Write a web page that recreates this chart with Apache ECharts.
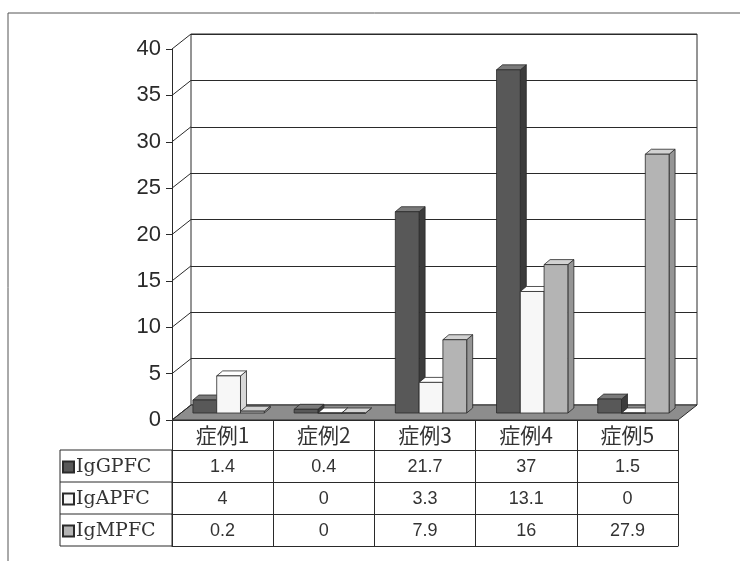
<!DOCTYPE html>
<html>
<head>
<meta charset="utf-8">
<script src="https://cdn.jsdelivr.net/npm/echarts@6/dist/echarts.min.js"></script>
<style>
html,body{margin:0;padding:0;background:#fff;}
#chart{width:740px;height:561px;}
</style>
</head>
<body>
<div id="chart"></div>
<script>
// ---- data ----
const categories = ['症例1', '症例2', '症例3', '症例4', '症例5'];
const seriesNames = ['IgGPFC', 'IgAPFC', 'IgMPFC'];
const igG = [1.4, 0.4, 21.7, 37, 1.5];
const igA = [4, 0, 3.3, 13.1, 0];
const igM = [0.2, 0, 7.9, 16, 27.9];
const yTicks = [0, 5, 10, 15, 20, 25, 30, 35, 40];

// ---- layout / style ----
const FL = 172, FR = 678, FT = 49, FB = 420;   // front plot plane
const DX = 19, DY = 15;                         // 3D depth of the walls
const MIDX = 6, MIDY = -7;                      // bar plane shift
const HEAD = 30, ROW = 32;
const LEGL = 60;
const W = 740, H = 561;
const faces = [
  { front: '#585858', top: '#7a7a7a', side: '#3c3c3c' },
  { front: '#f7f7f7', top: '#ffffff', side: '#d8d8d8' },
  { front: '#b4b4b4', top: '#d2d2d2', side: '#959595' }
];
const LINE = '#2a2a2a';

const seriesData = [igG, igA, igM];
const yMin = yTicks[0], yMax = yTicks[yTicks.length - 1], yStep = yTicks[1] - yTicks[0];

const chart = echarts.init(document.getElementById('chart'), null, { renderer: 'canvas' });

function renderFloor(params, api) {
  const band = api.size([1, 0])[0];
  const left = api.coord([0, 0])[0] - band / 2;
  const right = api.coord([categories.length - 1, 0])[0] + band / 2;
  const y0 = api.coord([0, 0])[1];
  const children = [{
    type: 'polygon',
    shape: { points: [[left, y0], [right, y0], [right + DX, y0 - DY], [left + DX, y0 - DY]] },
    style: { fill: '#8d8d8d', stroke: LINE, lineWidth: 1 }
  }];
  yTicks.forEach(t => {
    const y = api.coord([0, t])[1];
    children.push({
      type: 'line',
      shape: { x1: left, y1: y, x2: left + DX, y2: y - DY },
      style: { stroke: LINE, lineWidth: 1 }
    });
  });
  return { type: 'group', children };
}

function renderBar(params, api) {
  const s = seriesNames.indexOf(params.seriesName);
  const f = faces[s];
  const i = api.value(0), v = api.value(1);
  const base = api.coord([i, 0]);
  const top = api.coord([i, v]);
  const band = api.size([1, 0])[0];
  const bw = band * 0.235;
  const x0 = base[0] - 1.5 * bw + s * bw + MIDX;
  const yb = base[1] + MIDY;
  const yt = top[1] + MIDY;
  const d = 6, dd = 5;
  return {
    type: 'group',
    children: [
      { type: 'polygon', shape: { points: [[x0 + bw, yt], [x0 + bw + d, yt - dd], [x0 + bw + d, yb - dd], [x0 + bw, yb]] },
        style: { fill: f.side, stroke: LINE, lineWidth: 0.8 } },
      { type: 'polygon', shape: { points: [[x0, yt], [x0 + d, yt - dd], [x0 + bw + d, yt - dd], [x0 + bw, yt]] },
        style: { fill: f.top, stroke: LINE, lineWidth: 0.8 } },
      { type: 'rect', shape: { x: x0, y: yt, width: bw, height: yb - yt },
        style: { fill: f.front, stroke: LINE, lineWidth: 0.8 } }
    ]
  };
}

const valueFont = { fontFamily: 'Liberation Sans', fontSize: 18, color: '#333' };

const tableAxes = seriesData.map((arr, k) => ({
  type: 'category', gridIndex: 1, position: 'bottom',
  offset: HEAD + k * ROW,
  data: arr.map(v => String(v)),
  axisLine: { show: true, lineStyle: { color: LINE, width: 1 } },
  axisTick: { show: true, length: ROW, interval: 0, lineStyle: { color: LINE, width: 1 } },
  axisLabel: Object.assign({ interval: 0, margin: 8 }, valueFont),
  splitLine: { show: false }
}));

const option = {
  backgroundColor: '#ffffff',
  animation: false,
  grid: [
    { left: FL + DX, right: W - FR - DX, top: FT - DY, bottom: H - FB + DY,
      show: true, backgroundColor: '#ffffff', borderColor: LINE, borderWidth: 1 },
    { left: FL, right: W - FR, top: FT, bottom: H - FB }
  ],
  xAxis: [
    { type: 'category', gridIndex: 0, data: categories, show: false },
    { type: 'category', gridIndex: 1, position: 'bottom', data: categories,
      axisLine: { show: true, lineStyle: { color: LINE, width: 1 } },
      axisTick: { show: true, length: HEAD, interval: 0, lineStyle: { color: LINE, width: 1 } },
      axisLabel: { interval: 0, margin: 5, fontFamily: 'Noto Sans CJK JP', fontSize: 21, fontWeight: 'normal', color: '#333' },
      splitLine: { show: false } },
    ...tableAxes,
    { type: 'category', gridIndex: 1, position: 'bottom', offset: HEAD + 3 * ROW, data: categories,
      axisLine: { show: true, lineStyle: { color: LINE, width: 1 } },
      axisTick: { show: false }, axisLabel: { show: false } }
  ],
  yAxis: [
    { type: 'value', gridIndex: 0, min: yMin, max: yMax, interval: yStep,
      axisLine: { show: false }, axisTick: { show: false }, axisLabel: { show: false },
      splitLine: { show: true, lineStyle: { color: LINE, width: 1 } } },
    { type: 'value', gridIndex: 1, min: yMin, max: yMax, interval: yStep,
      axisLine: { show: true, lineStyle: { color: LINE, width: 1 } },
      axisTick: { show: true, length: 6, lineStyle: { color: LINE } },
      axisLabel: { fontFamily: 'Liberation Sans', fontSize: 22, color: '#2a2a2a', margin: 11 },
      splitLine: { show: false } }
  ],
  legend: {
    data: seriesNames,
    orient: 'vertical',
    left: LEGL - 3, top: FB + HEAD + 2,
    itemWidth: 11, itemHeight: 11, itemGap: 12,
    icon: 'rect',
    selectedMode: false,
    textStyle: { fontFamily: 'DejaVu Serif', fontSize: 19, lineHeight: 20, color: '#333', padding: [0, 0, 0, -3] }
  },
  graphic: [
    { type: 'rect', shape: { x: 8, y: 13, width: W + 20, height: H + 20 },
      style: { fill: 'none', stroke: '#555', lineWidth: 1 }, z: 0, silent: true },
    { type: 'rect', shape: { x: LEGL, y: FB + HEAD, width: FL - LEGL, height: 3 * ROW },
      style: { fill: 'none', stroke: LINE, lineWidth: 1 }, z: 0, silent: true },
    { type: 'line', shape: { x1: LEGL, y1: FB + HEAD + ROW, x2: FL, y2: FB + HEAD + ROW },
      style: { stroke: LINE, lineWidth: 1 }, silent: true },
    { type: 'line', shape: { x1: LEGL, y1: FB + HEAD + 2 * ROW, x2: FL, y2: FB + HEAD + 2 * ROW },
      style: { stroke: LINE, lineWidth: 1 }, silent: true }
  ],
  series: [
    { type: 'custom', name: 'floor', xAxisIndex: 1, yAxisIndex: 1, data: [[0, 0]],
      renderItem: renderFloor, clip: false, z: 2, silent: true },
    ...seriesData.map((arr, s) => ({
      type: 'custom', name: seriesNames[s], xAxisIndex: 1, yAxisIndex: 1,
      data: arr.map((v, i) => [i, v]),
      encode: { x: 0, y: 1 },
      itemStyle: { color: faces[s].front, borderColor: LINE, borderWidth: 1 },
      renderItem: renderBar, clip: false, z: 3
    }))
  ]
};
chart.setOption(option);
</script>
</body>
</html>
